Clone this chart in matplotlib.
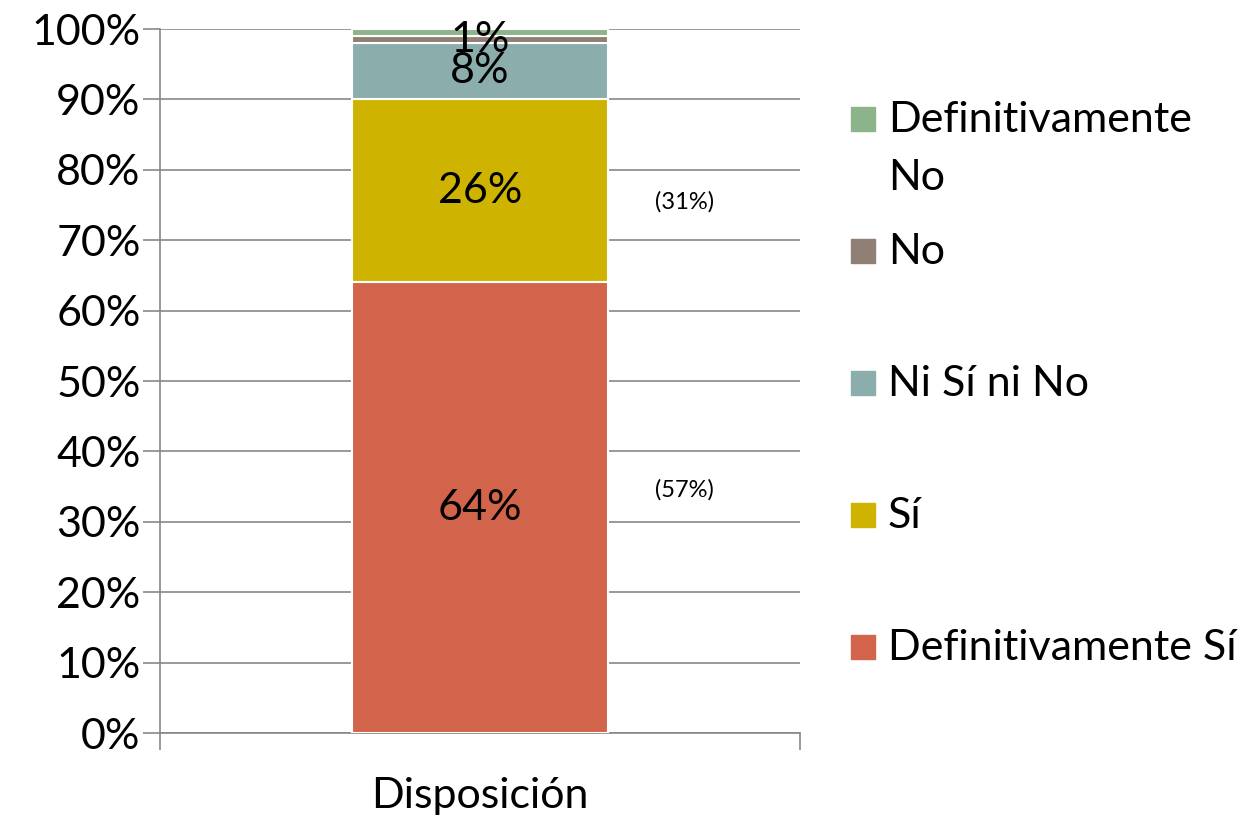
import numpy as np
import matplotlib.pyplot as plt
from matplotlib.patches import Rectangle

plt.rcParams['font.family'] = ['Lato', 'DejaVu Sans']

# data
category = "Disposición"
series = ["Definitivamente Sí", "Sí", "Ni Sí ni No", "No", "Definitivamente No"]
values = [64, 26, 8, 1, 1]
bar_labels = ["64%", "26%", "8%", "1%", ""]
colors = ["#D2644B", "#CEB400", "#8BADAC", "#8F7F75", "#8DB38B"]
side_notes = ["(57%)", "(31%)"]
side_note_y = [34.5, 75.5]
yticks = np.arange(0, 101, 10)

fs = 31

fig = plt.figure(figsize=(12.48, 8.18), dpi=100)
ax = fig.add_axes([0.1282, 0.1039, 0.5128, 0.8606])

bottom = 0
for name, val, lab, col in zip(series, values, bar_labels, colors):
    ax.bar(0, val, width=0.4, bottom=bottom, color=col, edgecolor="white",
           linewidth=1.5, zorder=3)
    if lab:
        ax.text(0, bottom + val / 2, lab, ha="center", va="center",
                fontsize=fs, zorder=4)
    bottom += val

for note, y in zip(side_notes, side_note_y):
    ax.text(0.32, y, note, ha="center", va="center", fontsize=17)

ax.set_xlim(-0.5, 0.5)
ax.set_ylim(0, 100)
ax.set_yticks(yticks)
ax.set_yticklabels([f"{t}%" for t in yticks], fontsize=fs)
ax.yaxis.grid(True, color="#878787", linewidth=1.2, zorder=0)
ax.set_axisbelow(True)

ax.set_xticks([-0.5, 0.5])
ax.set_xticklabels(["", ""])
ax.set_xticks([0], minor=True)
ax.set_xticklabels([category], minor=True, fontsize=fs)
ax.tick_params(axis="x", which="major", length=12, color="#878787", width=1.2)
ax.tick_params(axis="x", which="minor", length=0, pad=32)
ax.tick_params(axis="y", length=12, color="#878787", width=1.2, pad=2)

for side in ["top", "right"]:
    ax.spines[side].set_visible(False)
for side in ["left", "bottom"]:
    ax.spines[side].set_color("#878787")
    ax.spines[side].set_linewidth(1.2)

# legend, top entry first like the reference
leg_names = ["Definitivamente\nNo", "No", "Ni Sí ni No", "Sí", "Definitivamente Sí"]
leg_colors = colors[::-1]
y0 = 1 - 120 / 818
step = 132 / 818
line = 58 / 818
for i, (name, col) in enumerate(zip(leg_names, leg_colors)):
    y = y0 - i * step
    fig.patches.append(Rectangle((851 / 1248, y - 11 / 818), 24 / 1248, 24 / 818,
                                 transform=fig.transFigure, color=col))
    for j, part in enumerate(name.split("\n")):
        fig.text(888 / 1248, y - j * line, part, ha="left", va="center",
                 fontsize=fs)

fig.savefig("out.png", dpi=100)
